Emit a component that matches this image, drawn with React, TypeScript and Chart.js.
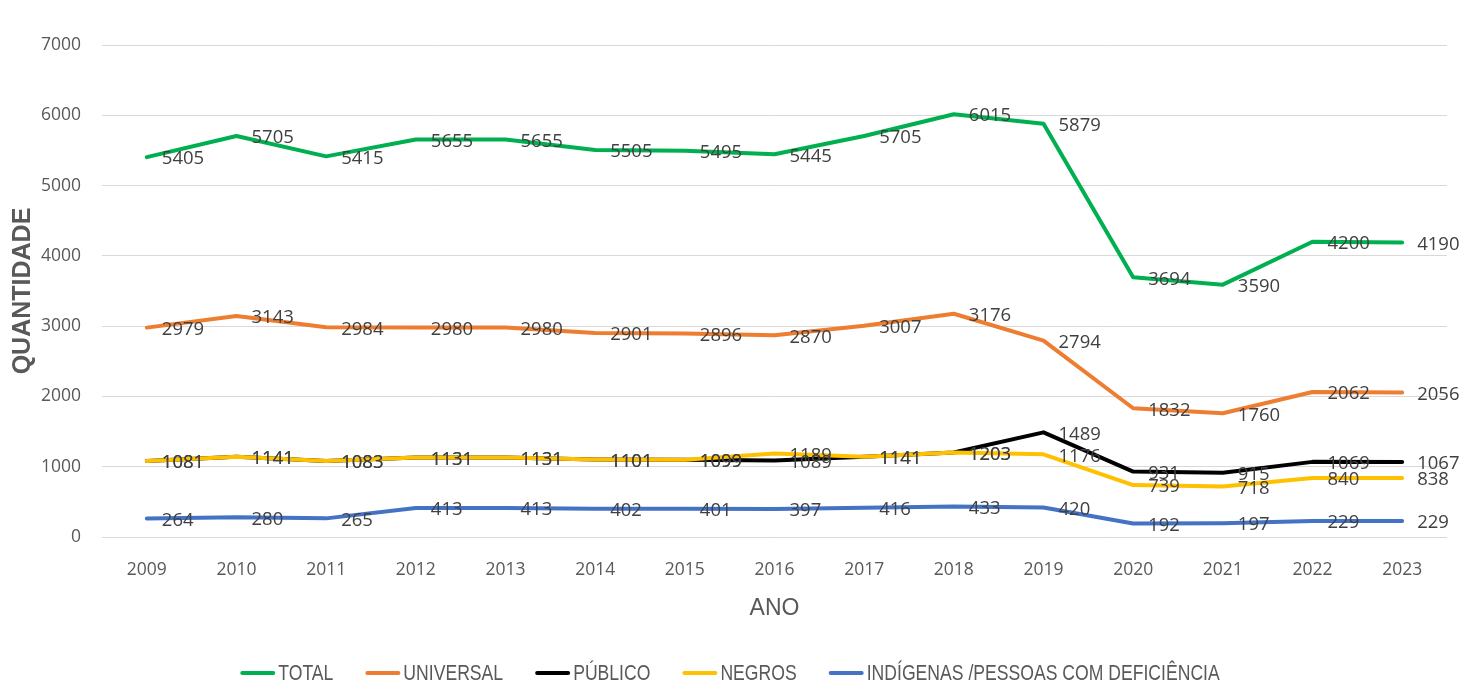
import React, { useEffect, useRef } from "react";
import { Chart, registerables } from "chart.js";

Chart.register(...registerables);

const years = ["2009","2010","2011","2012","2013","2014","2015","2016","2017","2018","2019","2020","2021","2022","2023"];
const total = [5405, 5705, 5415, 5655, 5655, 5505, 5495, 5445, 5705, 6015, 5879, 3694, 3590, 4200, 4190];
const universal = [2979, 3143, 2984, 2980, 2980, 2901, 2896, 2870, 3007, 3176, 2794, 1832, 1760, 2062, 2056];
const publico = [1081, 1141, 1083, 1131, 1131, 1101, 1099, 1089, 1141, 1203, 1489, 931, 915, 1069, 1067];
const negros = [1081, 1141, 1083, 1131, 1131, 1101, 1099, 1189, 1141, 1203, 1176, 739, 718, 840, 838];
const indigenas = [264, 280, 265, 413, 413, 402, 401, 397, 416, 433, 420, 192, 197, 229, 229];

const seriesNames = ["TOTAL", "UNIVERSAL", "PÚBLICO", "NEGROS", "INDÍGENAS /PESSOAS COM DEFICIÊNCIA"];
const seriesColors = ["#00B050", "#ED7D31", "#000000", "#FFC000", "#4472C4"];
const seriesData = [total, universal, publico, negros, indigenas];
const seriesOrder = [5, 4, 3, 2, 1];

const yMin = 0;
const yMax = 7000;
const yStep = 1000;

const SANS = "'Liberation Sans', Arial, sans-serif";
const NUMFONT = "'Open Sans', 'Liberation Sans', sans-serif";

const dataLabelPlugin = {
  id: "dataLabels",
  afterDatasetsDraw(chart: any) {
    const ctx = chart.ctx;
    ctx.save();
    ctx.font = `18.5px ${NUMFONT}`;
    ctx.fillStyle = "#404040";
    ctx.textAlign = "left";
    ctx.textBaseline = "middle";
    chart.data.datasets.forEach((ds: any, i: number) => {
      const meta = chart.getDatasetMeta(i);
      meta.data.forEach((pt: any, j: number) => {
        ctx.fillText(String(ds.data[j]), pt.x + 15, pt.y + 2);
      });
    });
    ctx.restore();
  },
};

const legendPlugin = {
  id: "customLegend",
  afterDraw(chart: any) {
    const ctx = chart.ctx;
    ctx.save();
    const sx = 0.8;
    ctx.font = `22px ${SANS}`;
    const lineLen = 35;
    const gapText = 3;
    const gapItem = 32;
    const widths = chart.data.datasets.map((ds: any) => ctx.measureText(ds.label).width * sx);
    let totalW = 0;
    widths.forEach((w: number, i: number) => {
      totalW += lineLen + gapText + w + (i < widths.length - 1 ? gapItem : 0);
    });
    let x = chart.width / 2 - totalW / 2;
    const y = 673;
    chart.data.datasets.forEach((ds: any, i: number) => {
      ctx.strokeStyle = ds.borderColor;
      ctx.lineWidth = 4;
      ctx.lineCap = "round";
      ctx.beginPath();
      ctx.moveTo(x + 2, y);
      ctx.lineTo(x + lineLen - 2, y);
      ctx.stroke();
      ctx.save();
      ctx.fillStyle = "#595959";
      ctx.textAlign = "left";
      ctx.textBaseline = "middle";
      ctx.translate(x + lineLen + gapText, y + 1);
      ctx.scale(sx, 1);
      ctx.fillText(ds.label, 0, 0);
      ctx.restore();
      x += lineLen + gapText + widths[i] + gapItem;
    });
    ctx.restore();
  },
};

export default function App() {
  const canvasRef = useRef<HTMLCanvasElement | null>(null);

  useEffect(() => {
    if (!canvasRef.current) return;
    const chart = new Chart(canvasRef.current, {
      type: "line",
      data: {
        labels: years,
        datasets: seriesNames.map((name, i) => ({
          label: name,
          data: seriesData[i],
          borderColor: seriesColors[i],
          backgroundColor: seriesColors[i],
          borderWidth: 4,
          pointRadius: 0,
          pointHoverRadius: 0,
          tension: 0,
          fill: false,
          borderCapStyle: "round",
          borderJoinStyle: "round",
          order: seriesOrder[i],
        })),
      },
      options: {
        responsive: true,
        maintainAspectRatio: false,
        animation: false,
        layout: { padding: { left: 0, right: 13, top: 45, bottom: 59 } },
        plugins: {
          legend: { display: false },
          tooltip: { enabled: false },
        },
        scales: {
          x: {
            type: "category",
            offset: true,
            grid: { display: false, drawTicks: false },
            border: { display: false },
            ticks: {
              color: "#595959",
              font: { family: NUMFONT, size: 17.5 },
              padding: 23,
              maxRotation: 0,
              autoSkip: false,
            },
            title: {
              display: true,
              text: "ANO",
              color: "#595959",
              font: { family: SANS, size: 23 },
              padding: { top: 0, bottom: 5 },
            },
            afterFit: (scale: any) => {
              scale.height = 90;
            },
          },
          y: {
            min: yMin,
            max: yMax,
            grid: { color: "#D9D9D9", lineWidth: 1, drawTicks: false },
            border: { display: false },
            ticks: {
              stepSize: yStep,
              color: "#595959",
              font: { family: NUMFONT, size: 17.5 },
              padding: 21,
              callback: (v: any) => String(v),
            },
            title: {
              display: true,
              text: "QUANTIDADE",
              color: "#595959",
              font: { family: SANS, size: 25, weight: "bold" },
              padding: { top: 8, bottom: 0 },
            },
            afterFit: (scale: any) => {
              scale.width = 102;
            },
          },
        },
      },
      plugins: [dataLabelPlugin, legendPlugin],
    } as any);
    return () => chart.destroy();
  }, []);

  return (
    <div style={{ position: "fixed", left: 0, top: 0, width: 1460, height: 686, background: "#fff" }}>
      <canvas ref={canvasRef} />
    </div>
  );
}
